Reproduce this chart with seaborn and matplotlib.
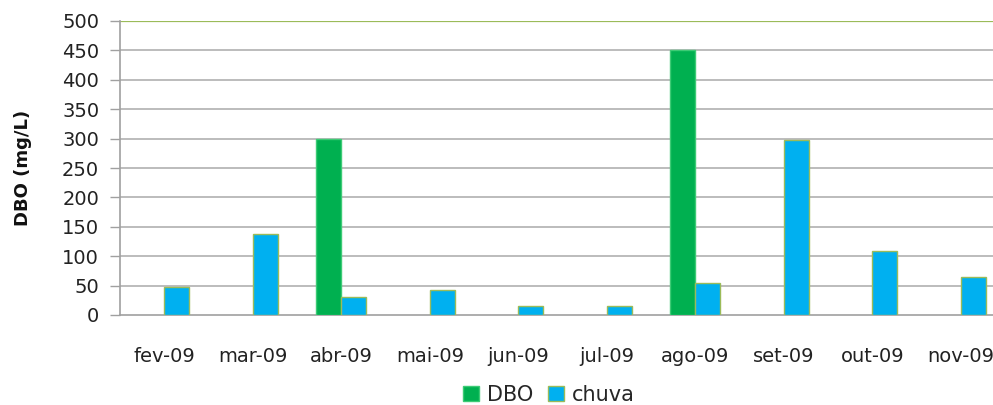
import numpy as np
import pandas as pd
import matplotlib
matplotlib.use("Agg")
import matplotlib.pyplot as plt
import seaborn as sns

months = ["fev-09", "mar-09", "abr-09", "mai-09", "jun-09",
          "jul-09", "ago-09", "set-09", "out-09", "nov-09"]
dbo = [np.nan, np.nan, 300, np.nan, np.nan, np.nan, 450, np.nan, np.nan, np.nan]
chuva = [47, 137, 30, 43, 15, 15, 54, 297, 109, 65]
series = ["DBO", "chuva"]
y_ticks = list(range(0, 501, 50))

df = pd.DataFrame({
    "mes": months * 2,
    "valor": dbo + chuva,
    "serie": [series[0]] * len(months) + [series[1]] * len(months),
})

sns.set_style("white")
plt.rcParams["font.family"] = ["DejaVu Sans"]

fig = plt.figure(figsize=(9.93, 4.05), dpi=100)
ax = fig.add_axes([120 / 993, 90 / 405, 885 / 993, 294 / 405])

palette = {"DBO": "#00B050", "chuva": "#00B0F0"}
edges = {"#00B050": "#3DCB75", "#00B0F0": "#9BBB59"}
sns.barplot(data=df, x="mes", y="valor", hue="serie", order=months,
            hue_order=series, palette=palette, width=0.57, ax=ax,
            saturation=1, legend=True)

for p in ax.patches:
    fc = matplotlib.colors.to_hex(p.get_facecolor())
    p.set_edgecolor(edges.get(fc.upper(), "#9BBB59"))
    p.set_linewidth(1.0)
    p.set_zorder(3)

ax.set_xlim(-0.5, len(months) - 0.5)
ax.set_ylim(0, 500)
ax.set_yticks(y_ticks)
ax.set_yticklabels([str(v) for v in y_ticks], fontsize=14, color="#222222")
ax.set_xticks(range(len(months)))
ax.set_xticklabels(months, fontsize=14, color="#222222")
ax.set_xticks(np.arange(-0.5, len(months), 1), minor=True)
ax.tick_params(axis="x", which="major", length=0, pad=23)
ax.tick_params(axis="x", which="minor", length=7, color="#a0a0a0", direction="out", width=1)
ax.tick_params(axis="y", length=7, color="#a0a0a0", direction="out", width=1, pad=8)
ax.tick_params(axis="both", bottom=True, left=True)

for y in y_ticks[1:-1]:
    ax.axhline(y, color="#b0b0b0", lw=1.2, zorder=1)
ax.axhline(500, color="#9BBB59", lw=1.6, zorder=1)

for s in ["top", "right"]:
    ax.spines[s].set_visible(False)
for s in ["left", "bottom"]:
    ax.spines[s].set_color("#a0a0a0")
    ax.spines[s].set_linewidth(1.2)

ax.set_xlabel("")
ax.set_ylabel("DBO (mg/L)", fontsize=13, fontweight="bold", color="#111111")
ax.yaxis.set_label_coords(-0.099, 0.5)

handles, labels = ax.get_legend_handles_labels()
ax.legend_.remove()
fig.legend(handles, labels, loc="center", bbox_to_anchor=(549 / 993, 1 - 395 / 405),
           ncol=2, frameon=False, fontsize=15, handlelength=0.75, handleheight=0.75,
           handletextpad=0.4, columnspacing=0.7)

fig.savefig("out.png", dpi=100)
